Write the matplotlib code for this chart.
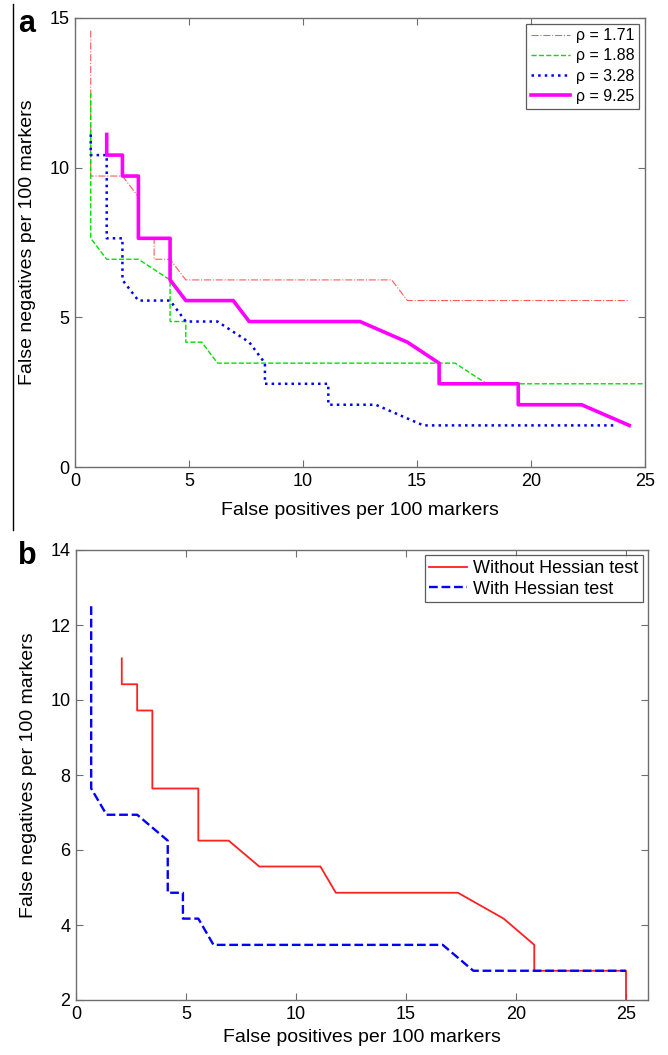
import matplotlib

matplotlib.use("Agg")
import matplotlib.pyplot as plt
from matplotlib.lines import Line2D

plt.rcParams["font.family"] = ["Liberation Sans", "DejaVu Sans"]

# ── Panel a: four rho values ──────────────────────────────────────────────
RHO_LABELS = ["ρ = 1.71", "ρ = 1.88", "ρ = 3.28", "ρ = 9.25"]

FP_171 = [0.69, 0.69, 2.08, 2.78, 2.78, 3.47, 3.47, 4.17, 4.86, 13.89, 14.58, 24.31]
FN_171 = [14.58, 9.72, 9.72, 9.03, 7.64, 7.64, 6.94, 6.94, 6.25, 6.25, 5.56, 5.56]

FP_188 = [0.69, 0.69, 1.39, 2.78, 4.17, 4.17, 4.86, 4.86, 5.56, 6.25, 16.67, 18.06, 25.0]
FN_188 = [12.50, 7.64, 6.94, 6.94, 6.25, 4.86, 4.86, 4.17, 4.17, 3.47, 3.47, 2.78, 2.78]

FP_328 = [0.69, 0.69, 1.39, 1.39, 2.08, 2.08, 2.78, 4.17, 4.86, 6.25, 7.64, 8.33,
          8.33, 11.11, 11.11, 13.19, 15.28, 23.61]
FN_328 = [11.11, 10.42, 10.42, 7.64, 7.64, 6.25, 5.56, 5.56, 4.86, 4.86, 4.17, 3.47,
          2.78, 2.78, 2.08, 2.08, 1.39, 1.39]

FP_925 = [1.39, 1.39, 2.08, 2.08, 2.78, 2.78, 4.17, 4.17, 4.86, 6.94, 7.64, 12.50,
          14.58, 15.97, 15.97, 19.44, 19.44, 22.22, 24.31]
FN_925 = [11.11, 10.42, 10.42, 9.72, 9.72, 7.64, 7.64, 6.25, 5.56, 5.56, 4.86, 4.86,
          4.17, 3.47, 2.78, 2.78, 2.08, 2.08, 1.39]

# ── Panel b: with / without Hessian test ─────────────────────────────────
HESS_LABELS = ["Without Hessian test", "With Hessian test"]

FP_NOHESS = [2.08, 2.08, 2.78, 2.78, 3.47, 3.47, 5.56, 5.56, 6.94, 8.33, 11.11, 11.81,
             17.36, 19.44, 20.83, 20.83, 25.0, 25.0]
FN_NOHESS = [11.11, 10.42, 10.42, 9.72, 9.72, 7.64, 7.64, 6.25, 6.25, 5.56, 5.56, 4.86,
             4.86, 4.17, 3.47, 2.78, 2.78, 2.0]

FP_HESS = [0.69, 0.69, 1.39, 2.78, 4.17, 4.17, 4.86, 4.86, 5.56, 6.25, 16.67, 18.06, 25.0]
FN_HESS = [12.50, 7.64, 6.94, 6.94, 6.25, 4.86, 4.86, 4.17, 4.17, 3.47, 3.47, 2.78, 2.78]

SPINE = "#6e6e6e"


def _style_axes(ax):
    for s in ax.spines.values():
        s.set_color(SPINE)
        s.set_linewidth(1.0)
    ax.tick_params(direction="in", top=True, right=True, length=5,
                   color=SPINE, labelsize=13, pad=4)
    ax.set_xlabel("False positives per 100 markers", fontsize=14, labelpad=9)
    ax.set_ylabel("False negatives per 100 markers", fontsize=14)


fig = plt.figure(figsize=(6.68, 10.55), dpi=100)

# ── a ──
ax_a = fig.add_axes([75 / 668, 1 - 467 / 1055, 570 / 668, 449 / 1055])
ax_a.plot(FP_171, FN_171, color="#ff5a5a", ls="-.", lw=0.8, label=RHO_LABELS[0])
ax_a.plot(FP_188, FN_188, color="#00e000", ls="--", lw=1.0, label=RHO_LABELS[1])
ax_a.plot(FP_328, FN_328, color="#0000ff", ls=":", lw=1.8, label=RHO_LABELS[2])
ax_a.plot(FP_925, FN_925, color="#ff00ff", ls="-", lw=2.6, label=RHO_LABELS[3])
ax_a.set_xlim(0, 25)
ax_a.set_ylim(0, 15)
ax_a.set_xticks([0, 5, 10, 15, 20, 25])
ax_a.set_yticks([0, 5, 10, 15])
_style_axes(ax_a)
ax_a.yaxis.set_label_coords(-0.069, 0.5)
leg = ax_a.legend(loc="upper right", fontsize=11.5, frameon=True, fancybox=False,
                  handlelength=2.4, handletextpad=0.4, borderpad=0.3,
                  labelspacing=0.32, borderaxespad=0.35)
leg.get_frame().set_edgecolor("#333333")
leg.get_frame().set_linewidth(0.9)

# ── b ──
ax_b = fig.add_axes([76 / 668, 1 - 1000 / 1055, 572 / 668, 450 / 1055])
ax_b.plot(FP_NOHESS, FN_NOHESS, color="#ff2020", ls="-", lw=1.3, label=HESS_LABELS[0])
ax_b.plot(FP_HESS, FN_HESS, color="#0000ff", ls="--", lw=1.7, label=HESS_LABELS[1])
ax_b.set_xlim(0, 26)
ax_b.set_ylim(2, 14)
ax_b.set_xticks([0, 5, 10, 15, 20, 25])
ax_b.set_yticks([2, 4, 6, 8, 10, 12, 14])
_style_axes(ax_b)
ax_b.xaxis.labelpad = 5
ax_b.yaxis.set_label_coords(-0.069, 0.5)
leg = ax_b.legend(loc="upper right", fontsize=13, frameon=True, fancybox=False,
                  handlelength=2.1, handletextpad=0.3, borderpad=0.25,
                  labelspacing=0.2, borderaxespad=0.3)
leg.get_frame().set_edgecolor("#333333")
leg.get_frame().set_linewidth(0.9)

# panel letters and the left border rule
fig.text(18 / 668, 1 - 24 / 1055, "a", fontsize=22, fontweight="bold", va="center")
fig.text(18 / 668, 1 - 556 / 1055, "b", fontsize=22, fontweight="bold", va="center")
fig.add_artist(Line2D([13 / 668, 13 / 668], [1 - 4 / 1055, 1 - 530 / 1055],
                      color="black", lw=1.0))

fig.savefig("out.png", dpi=100, facecolor="white")
